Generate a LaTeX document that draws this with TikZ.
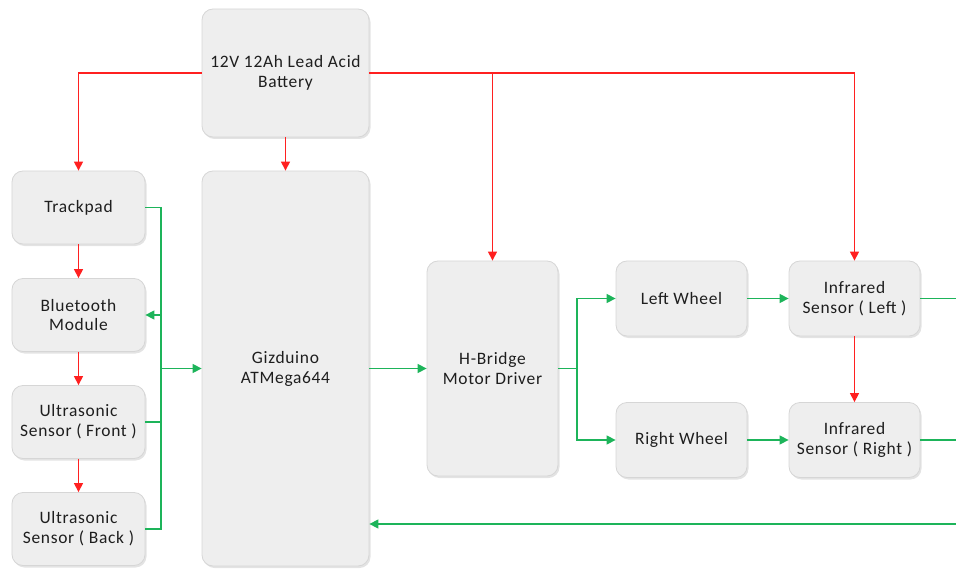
\documentclass[tikz,border=0pt]{standalone}
\usepackage{fontspec}
\setmainfont[LetterSpace=4]{Carlito}
\usetikzlibrary{arrows.meta,positioning,shadows}
\definecolor{boxfill}{HTML}{EEEEEE}
\definecolor{boxline}{HTML}{D6D6D6}
\definecolor{pwrred}{HTML}{FF2020}
\definecolor{siggreen}{HTML}{1DB45A}
\definecolor{txt}{HTML}{1E1E1E}

\begin{document}
\begin{tikzpicture}[
    x=1bp, y=-1bp,
    block/.style={rectangle, rounded corners=11bp, draw=boxline, fill=boxfill,
                  line width=0.8bp, text=txt, align=center, inner sep=2bp,
                  font=\fontsize{17.5}{20}\selectfont,
                  drop shadow={opacity=0.22, shadow xshift=1.5bp, shadow yshift=-2bp}},
    pwr/.style={-{Triangle[length=9bp,width=9bp]}, pwrred, line width=1.2bp},
    sig/.style={siggreen, line width=1.4bp},
    sigarr/.style={sig, -{Triangle[length=9bp,width=9bp]}},
]
\useasboundingbox (0,0) rectangle (956,569);

% Power source and controller.
\node[block, minimum width=167bp, minimum height=128bp] (bat) at (285.5,73)
  {12V 12Ah Lead Acid\\Battery};
\node[block, minimum width=167bp, minimum height=395bp] (giz) at (285.5,368.5)
  {Gizduino\\ATMega644};

% Left column: inputs.
\node[block, minimum width=133bp, minimum height=73bp] (track) at (78.5,207.5) {Trackpad};
\node[block, minimum width=133bp, minimum height=73bp] (bt) at (78.5,315) {Bluetooth\\Module};
\node[block, minimum width=133bp, minimum height=73bp] (usf) at (78.5,422) {Ultrasonic\\Sensor ( Front )};
\node[block, minimum width=133bp, minimum height=73bp] (usb) at (78.5,529) {Ultrasonic\\Sensor ( Back )};

% Drive side.
\node[block, minimum width=131bp, minimum height=215bp] (hb) at (492.5,368.5)
  {H-Bridge\\Motor Driver};
\node[block, minimum width=131bp, minimum height=75bp] (lw) at (681.5,298.5) {Left Wheel};
\node[block, minimum width=131bp, minimum height=75bp] (rw) at (681.5,440) {Right Wheel};
\node[block, minimum width=131bp, minimum height=75bp] (irl) at (854.5,298.5) {Infrared\\Sensor ( Left )};
\node[block, minimum width=131bp, minimum height=75bp] (irr) at (854.5,440) {Infrared\\Sensor ( Right )};

% Bus lines and the page edge.
\coordinate (busL) at (161,0);
\coordinate (busR) at (577,0);
\coordinate (edge) at (956,0);
\coordinate (fb) at (956,524);

% Power distribution (red).
\draw[pwr] (bat.west) -| (track.north);
\draw[pwr] (bat.east) -| (irl.north);
\draw[pwr] (hb.north |- bat.east) -- (hb.north);
\draw[pwr] (bat.south) -- (giz.north);
\draw[pwr] (track) -- (bt);
\draw[pwr] (bt) -- (usf);
\draw[pwr] (usf) -- (usb);
\draw[pwr] (irl) -- (irr);

% Signals (green).
\draw[sig] (track.east) -| (busL |- usb.east) -- (usb.east);
\draw[sig] (usf.east) -- (busL |- usf.east);
\draw[sigarr] (busL |- bt.east) -- (bt.east);
\draw[sigarr] (busL |- giz.west) -- (giz.west);
\draw[sigarr] (giz.east) -- (hb.west);
\draw[sigarr] (hb.east) -- (busR |- hb.east) |- (lw.west);
\draw[sigarr] (busR |- hb.east) |- (rw.west);
\draw[sigarr] (lw) -- (irl);
\draw[sigarr] (rw) -- (irr);
\draw[sig] (irl.east) -- (edge |- irl.east);
\draw[sig] (irr.east) -- (edge |- irr.east);
\draw[sigarr] (fb) -- (giz.east |- fb);
\end{tikzpicture}
\end{document}
